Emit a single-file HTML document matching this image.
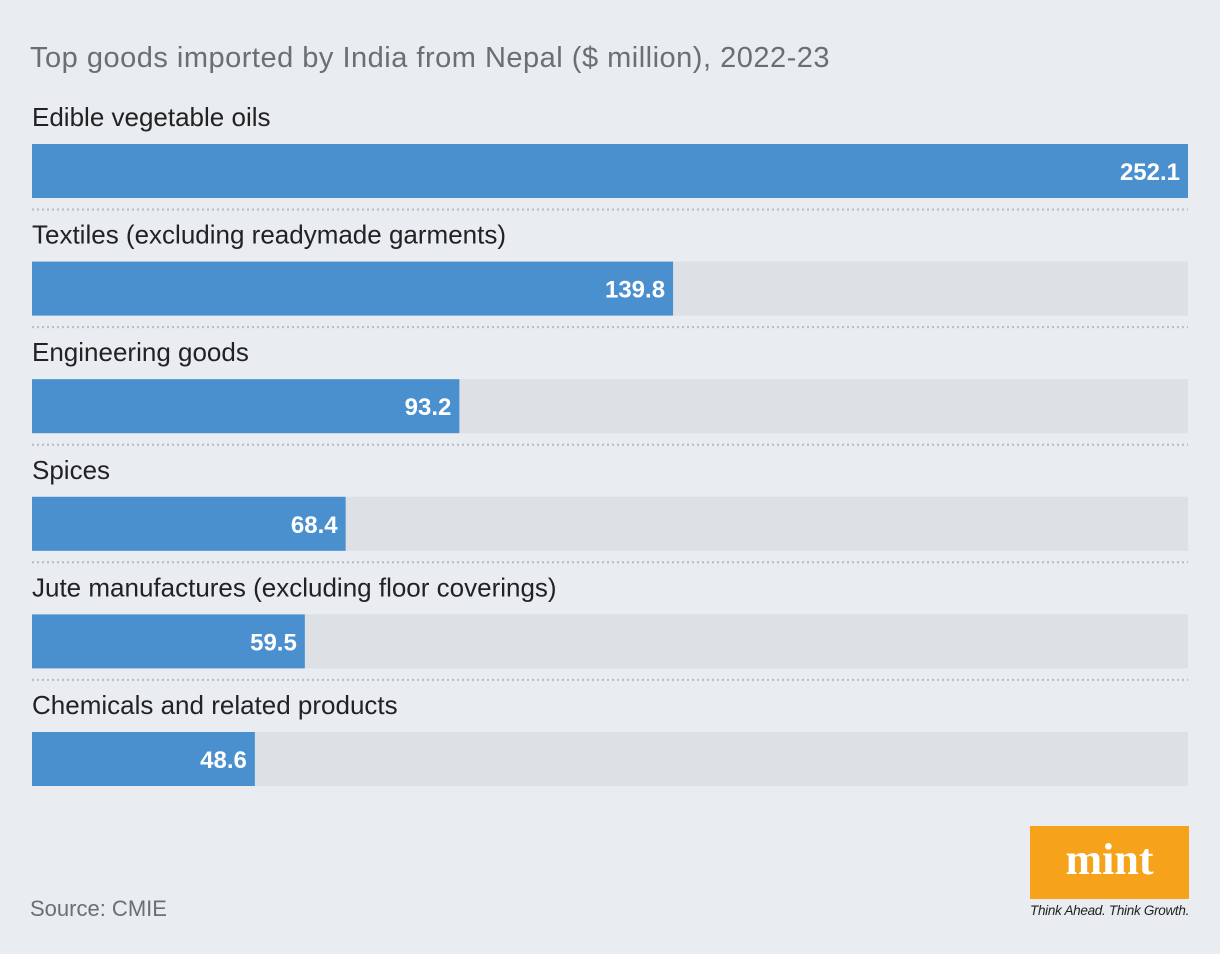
<!DOCTYPE html>
<html><head><meta charset="utf-8"><style>
body{margin:0;width:1220px;height:954px;background:#e9ecf0;font-family:"Liberation Sans",sans-serif;overflow:hidden;position:relative}
.t{position:absolute;white-space:nowrap}
</style></head><body>
<div class="t" style="left:30px;top:42px;font-size:29px;color:#6b6e72;letter-spacing:0.5px">Top goods imported by India from Nepal ($ million), 2022-23</div>
<svg id="c" width="1220" height="954" style="position:absolute;left:0;top:0"></svg>
<div class="t" style="left:30px;top:896px;font-size:22px;color:#6b6e72">Source: CMIE</div>
<div style="position:absolute;left:1030px;top:826px;width:159px;height:73px;background:#f7a21b;color:#fff;font-family:'Liberation Serif',serif;font-weight:bold;font-size:44px;text-align:center;line-height:68px">mint</div>
<div class="t" style="left:1030px;top:903px;font-size:13.5px;font-style:italic;color:#222;letter-spacing:-0.3px">Think Ahead. Think Growth.</div>
<script>
const categories=["Edible vegetable oils","Textiles (excluding readymade garments)","Engineering goods","Spices","Jute manufactures (excluding floor coverings)","Chemicals and related products"];
const values=[252.1,139.8,93.2,68.4,59.5,48.6];
const labels=["252.1","139.8","93.2","68.4","59.5","48.6"];
const svg=document.getElementById('c');const NS="http://www.w3.org/2000/svg";
const x0=32,x1=1188,maxV=Math.max(...values);
const xs=v=>x0+(v/maxV)*(x1-x0);
const rowY=i=>144+i*117.6;
function mk(t,a){const e=document.createElementNS(NS,t);for(const k in a)e.setAttribute(k,a[k]);svg.appendChild(e);return e;}
categories.forEach((c,i)=>{
 const y=rowY(i);
 const lab=mk('text',{x:32,y:y-18,'font-size':26,fill:'#222','font-family':'Liberation Sans, sans-serif'});lab.textContent=c;
 
 
 const tr=mk('rect',{x:x0,y:y,width:x1-x0,height:54,fill:'#dde0e5'});
 
 
 const b=mk('rect',{x:x0,y:y,width:xs(values[i])-x0,height:54,fill:'#4a90cf'});
 
 
 const v=mk('text',{x:xs(values[i])-8,y:y+36,'font-size':24,'font-weight':'bold',fill:'#fff','text-anchor':'end','font-family':'Liberation Sans, sans-serif'});v.textContent=labels[i];
 
 
 if(i<categories.length-1){const l=mk('line',{x1:32,x2:1188,y1:y+65.5,y2:y+65.5,stroke:'#b8bcc2','stroke-width':2,'stroke-dasharray':'2 3'});
 
 }
});
</script>
</body></html>
